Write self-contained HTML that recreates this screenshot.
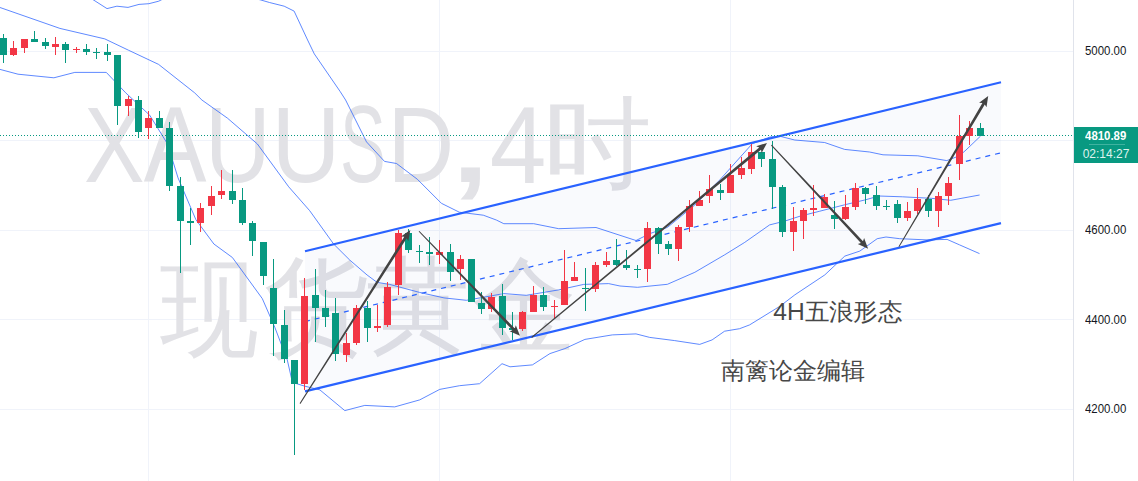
<!DOCTYPE html>
<html><head><meta charset="utf-8"><style>
html,body{margin:0;padding:0;background:#fff;width:1138px;height:481px;overflow:hidden;position:relative;font-family:"Liberation Sans",sans-serif}
.ax{position:absolute;left:1085px;font-size:12px;color:#131722;line-height:14px;transform:scaleX(0.953);transform-origin:0 0}
.lbl{position:absolute;left:1074px;width:64px;background:#089981;color:#fff;text-align:center;font-size:12px}
.txt{position:absolute;color:#434343;font-size:24px;line-height:28px;white-space:nowrap}
</style></head><body>
<svg width="1138" height="481" style="position:absolute;left:0;top:0">
<g shape-rendering="crispEdges">
<rect x="0" y="51" width="1073" height="1" fill="#F0F3FA"/>
<rect x="0" y="140" width="1073" height="1" fill="#F0F3FA"/>
<rect x="0" y="230" width="1073" height="1" fill="#F0F3FA"/>
<rect x="0" y="319" width="1073" height="1" fill="#F0F3FA"/>
<rect x="0" y="409" width="1073" height="1" fill="#F0F3FA"/>
<rect x="148" y="0" width="1" height="481" fill="#F0F3FA"/>
<rect x="439" y="0" width="1" height="481" fill="#F0F3FA"/>
<rect x="730" y="0" width="1" height="481" fill="#F0F3FA"/>
</g>
<g fill="#E2E2E6" font-family="Liberation Sans, sans-serif" font-size="105"><text transform="matrix(0.8641 0 0 1.0192 83.91 182.40)">X</text><text transform="matrix(0.8956 0 0 1.0333 143.70 182.40)">A</text><text transform="matrix(0.8667 0 0 1.0189 205.07 182.38)">U</text><text transform="matrix(0.9100 0 0 1.0257 271.42 182.37)">U</text><text transform="matrix(0.6533 0 0 1.0387 339.93 182.36)">S</text><text transform="matrix(0.8790 0 0 1.0288 387.39 182.10)">D</text><text transform="matrix(1.8700 0 0 1.2958 443.00 181.95)">,</text><text transform="matrix(0.9698 0 0 1.0431 489.66 183.14)">4</text><text transform="matrix(1.0383 0 0 0.9566 543.03 177.56)">时</text><text transform="matrix(0.9412 0 0 1.0213 160.06 345.74)">现</text><text transform="matrix(1.0101 0 0 0.9904 262.97 342.17)">货</text><text transform="matrix(0.9899 0 0 0.9902 366.02 341.16)">黄</text><text transform="matrix(1.0000 0 0 1.0000 472.00 342.00)">金</text></g>
<polygon points="305,251.2 1001,82.3 1001,223.1 305,391.4" fill="#3060C0" fill-opacity="0.03"/>
<polyline points="92.0,-1.0 107.0,8.6 116.9,6.2 128.0,7.4 139.0,4.4 148.9,3.7 158.7,1.2 163.0,-1.0 257.0,-1.0 260.9,0.0 269.5,2.5 284.2,6.2 294.1,11.1 307.6,40.0 314.3,53.9 340.0,91.3 345.6,100.0 366.5,141.9 384.5,161.4 396.5,163.5 417.4,179.3 441.4,203.3 459.3,212.2 483.3,215.2 496.3,220.0 503.8,223.7 533.7,223.7 558.7,228.7 596.0,227.5 636.0,240.5 649.9,233.6 667.4,227.4 694.8,205.0 719.7,180.0 752.3,143.7 770.0,137.0 779.7,136.2 794.7,140.0 824.6,142.5 844.6,149.4 869.6,152.0 883.0,154.8 917.8,155.8 946.8,160.6 959.4,155.8 966.0,150.0 980.6,136.0" fill="none" stroke="#2962FF" stroke-opacity="0.75" stroke-width="1"/>
<polyline points="0.0,7.5 59.9,28.4 104.8,38.9 128.7,50.3 158.6,64.4 194.6,92.8 201.9,100.0 227.5,118.2 257.4,144.0 288.7,186.8 309.7,210.7 333.6,244.0 349.7,260.0 367.1,275.0 377.1,282.4 389.6,284.4 419.5,292.4 444.0,297.9 466.4,300.3 503.8,293.6 526.3,295.3 558.7,289.9 583.7,284.4 608.6,283.6 620.0,286.0 637.5,287.3 667.4,284.3 694.8,272.3 724.7,254.8 744.7,242.4 769.6,224.9 784.5,221.2 800.0,216.2 819.8,211.2 844.6,204.8 864.7,200.0 879.0,196.0 902.3,196.8 931.3,198.3 950.7,200.3 979.6,195.0" fill="none" stroke="#2962FF" stroke-opacity="0.75" stroke-width="1"/>
<polyline points="0.0,69.4 18.0,74.2 53.9,77.8 74.8,72.4 106.3,72.4 125.7,92.8 149.7,115.2 167.6,144.0 178.0,177.8 195.9,219.7 213.9,244.0 232.4,257.5 262.3,298.6 274.8,327.3 287.3,360.0 292.4,382.4 304.9,386.2 319.9,389.9 344.8,410.6 364.8,405.4 394.7,406.9 419.7,399.9 439.7,389.4 459.6,385.7 479.6,383.7 502.0,363.7 510.0,366.8 532.4,364.9 549.9,353.6 564.9,348.6 584.9,339.4 612.3,334.9 636.0,333.9 649.7,337.4 674.7,340.6 699.7,344.4 712.1,339.9 724.6,331.2 739.6,328.7 749.6,324.9 780.0,306.2 794.9,294.8 824.8,274.9 844.8,256.1 859.8,251.1 877.2,238.7 886.0,237.0 899.7,238.7 927.1,239.9 947.1,239.4 959.6,244.9 979.5,253.6" fill="none" stroke="#2962FF" stroke-opacity="0.75" stroke-width="1"/>
<line x1="305" y1="251.2" x2="1001" y2="82.3" stroke="#2962FF" stroke-width="2.2"/>
<line x1="305" y1="391.4" x2="1001" y2="223.1" stroke="#2962FF" stroke-width="2.2"/>
<line x1="305" y1="321.5" x2="1001" y2="152.8" stroke="#2962FF" stroke-width="1.2" stroke-dasharray="5 5"/>
<g shape-rendering="crispEdges">
<line x1="0" y1="135.5" x2="1073" y2="135.5" stroke="#089981" stroke-width="1" stroke-dasharray="1 2"/>
<rect x="3" y="34" width="1" height="29" fill="#089981"/>
<rect x="0" y="38" width="7" height="17" fill="#089981"/>
<rect x="13" y="41" width="1" height="15" fill="#F23645"/>
<rect x="10" y="48" width="7" height="7" fill="#F23645"/>
<rect x="24" y="39" width="1" height="14" fill="#F23645"/>
<rect x="21" y="39" width="7" height="9" fill="#F23645"/>
<rect x="34" y="31" width="1" height="11" fill="#089981"/>
<rect x="31" y="39" width="7" height="3" fill="#089981"/>
<rect x="45" y="38" width="1" height="11" fill="#089981"/>
<rect x="42" y="42" width="7" height="4" fill="#089981"/>
<rect x="55" y="37" width="1" height="18" fill="#F23645"/>
<rect x="52" y="44" width="7" height="3" fill="#F23645"/>
<rect x="65" y="42" width="1" height="21" fill="#089981"/>
<rect x="62" y="44" width="7" height="6" fill="#089981"/>
<rect x="76" y="47" width="1" height="6" fill="#F23645"/>
<rect x="73" y="49" width="7" height="1" fill="#F23645"/>
<rect x="86" y="44" width="1" height="11" fill="#089981"/>
<rect x="83" y="49" width="7" height="3" fill="#089981"/>
<rect x="96" y="48" width="1" height="11" fill="#089981"/>
<rect x="93" y="52" width="7" height="1" fill="#089981"/>
<rect x="107" y="44" width="1" height="17" fill="#089981"/>
<rect x="104" y="52" width="7" height="3" fill="#089981"/>
<rect x="117" y="55" width="1" height="70" fill="#089981"/>
<rect x="114" y="55" width="7" height="51" fill="#089981"/>
<rect x="128" y="96" width="1" height="20" fill="#F23645"/>
<rect x="125" y="99" width="7" height="7" fill="#F23645"/>
<rect x="138" y="96" width="1" height="42" fill="#089981"/>
<rect x="135" y="100" width="7" height="32" fill="#089981"/>
<rect x="148" y="111" width="1" height="28" fill="#F23645"/>
<rect x="145" y="118" width="7" height="10" fill="#F23645"/>
<rect x="159" y="111" width="1" height="17" fill="#089981"/>
<rect x="156" y="118" width="7" height="10" fill="#089981"/>
<rect x="169" y="122" width="1" height="69" fill="#089981"/>
<rect x="166" y="128" width="7" height="58" fill="#089981"/>
<rect x="180" y="177" width="1" height="96" fill="#089981"/>
<rect x="177" y="186" width="7" height="35" fill="#089981"/>
<rect x="190" y="208" width="1" height="37" fill="#089981"/>
<rect x="187" y="221" width="7" height="2" fill="#089981"/>
<rect x="200" y="203" width="1" height="29" fill="#F23645"/>
<rect x="197" y="208" width="7" height="15" fill="#F23645"/>
<rect x="211" y="186" width="1" height="29" fill="#F23645"/>
<rect x="208" y="196" width="7" height="10" fill="#F23645"/>
<rect x="221" y="170" width="1" height="29" fill="#F23645"/>
<rect x="218" y="191" width="7" height="4" fill="#F23645"/>
<rect x="232" y="170" width="1" height="34" fill="#089981"/>
<rect x="229" y="191" width="7" height="9" fill="#089981"/>
<rect x="242" y="188" width="1" height="37" fill="#089981"/>
<rect x="239" y="200" width="7" height="23" fill="#089981"/>
<rect x="252" y="221" width="1" height="35" fill="#089981"/>
<rect x="249" y="223" width="7" height="18" fill="#089981"/>
<rect x="263" y="242" width="1" height="43" fill="#089981"/>
<rect x="260" y="242" width="7" height="34" fill="#089981"/>
<rect x="273" y="259" width="1" height="97" fill="#089981"/>
<rect x="270" y="288" width="7" height="36" fill="#089981"/>
<rect x="284" y="310" width="1" height="53" fill="#089981"/>
<rect x="281" y="325" width="7" height="34" fill="#089981"/>
<rect x="294" y="360" width="1" height="95" fill="#089981"/>
<rect x="291" y="360" width="7" height="24" fill="#089981"/>
<rect x="304" y="278" width="1" height="112" fill="#F23645"/>
<rect x="301" y="296" width="7" height="88" fill="#F23645"/>
<rect x="315" y="269" width="1" height="73" fill="#089981"/>
<rect x="312" y="295" width="7" height="13" fill="#089981"/>
<rect x="325" y="290" width="1" height="37" fill="#089981"/>
<rect x="322" y="308" width="7" height="9" fill="#089981"/>
<rect x="335" y="298" width="1" height="63" fill="#089981"/>
<rect x="332" y="313" width="7" height="41" fill="#089981"/>
<rect x="346" y="333" width="1" height="29" fill="#F23645"/>
<rect x="343" y="343" width="7" height="12" fill="#F23645"/>
<rect x="356" y="305" width="1" height="40" fill="#F23645"/>
<rect x="353" y="308" width="7" height="35" fill="#F23645"/>
<rect x="367" y="301" width="1" height="41" fill="#089981"/>
<rect x="364" y="308" width="7" height="20" fill="#089981"/>
<rect x="377" y="305" width="1" height="27" fill="#F23645"/>
<rect x="374" y="326" width="7" height="2" fill="#F23645"/>
<rect x="387" y="282" width="1" height="45" fill="#F23645"/>
<rect x="384" y="287" width="7" height="38" fill="#F23645"/>
<rect x="398" y="230" width="1" height="65" fill="#F23645"/>
<rect x="395" y="233" width="7" height="52" fill="#F23645"/>
<rect x="408" y="229" width="1" height="24" fill="#089981"/>
<rect x="405" y="233" width="7" height="17" fill="#089981"/>
<rect x="419" y="245" width="1" height="18" fill="#089981"/>
<rect x="416" y="251" width="7" height="1" fill="#089981"/>
<rect x="429" y="237" width="1" height="28" fill="#089981"/>
<rect x="426" y="252" width="7" height="2" fill="#089981"/>
<rect x="439" y="240" width="1" height="24" fill="#F23645"/>
<rect x="436" y="252" width="7" height="3" fill="#F23645"/>
<rect x="450" y="244" width="1" height="37" fill="#089981"/>
<rect x="447" y="252" width="7" height="20" fill="#089981"/>
<rect x="460" y="255" width="1" height="25" fill="#F23645"/>
<rect x="457" y="259" width="7" height="10" fill="#F23645"/>
<rect x="471" y="259" width="1" height="43" fill="#089981"/>
<rect x="468" y="259" width="7" height="43" fill="#089981"/>
<rect x="481" y="292" width="1" height="22" fill="#089981"/>
<rect x="478" y="303" width="7" height="6" fill="#089981"/>
<rect x="491" y="293" width="1" height="19" fill="#F23645"/>
<rect x="488" y="297" width="7" height="12" fill="#F23645"/>
<rect x="502" y="284" width="1" height="51" fill="#089981"/>
<rect x="499" y="296" width="7" height="32" fill="#089981"/>
<rect x="512" y="312" width="1" height="28" fill="#089981"/>
<rect x="509" y="328" width="7" height="2" fill="#089981"/>
<rect x="522" y="311" width="1" height="20" fill="#F23645"/>
<rect x="519" y="312" width="7" height="17" fill="#F23645"/>
<rect x="533" y="286" width="1" height="26" fill="#F23645"/>
<rect x="530" y="295" width="7" height="17" fill="#F23645"/>
<rect x="543" y="287" width="1" height="24" fill="#089981"/>
<rect x="540" y="295" width="7" height="12" fill="#089981"/>
<rect x="554" y="300" width="1" height="18" fill="#F23645"/>
<rect x="551" y="306" width="7" height="1" fill="#F23645"/>
<rect x="564" y="250" width="1" height="55" fill="#F23645"/>
<rect x="561" y="281" width="7" height="24" fill="#F23645"/>
<rect x="574" y="262" width="1" height="19" fill="#F23645"/>
<rect x="571" y="277" width="7" height="4" fill="#F23645"/>
<rect x="585" y="268" width="1" height="43" fill="#089981"/>
<rect x="582" y="288" width="7" height="1" fill="#089981"/>
<rect x="595" y="262" width="1" height="30" fill="#F23645"/>
<rect x="592" y="265" width="7" height="24" fill="#F23645"/>
<rect x="606" y="252" width="1" height="15" fill="#F23645"/>
<rect x="603" y="261" width="7" height="4" fill="#F23645"/>
<rect x="616" y="239" width="1" height="27" fill="#089981"/>
<rect x="613" y="260" width="7" height="5" fill="#089981"/>
<rect x="626" y="250" width="1" height="20" fill="#089981"/>
<rect x="623" y="265" width="7" height="3" fill="#089981"/>
<rect x="637" y="265" width="1" height="13" fill="#089981"/>
<rect x="634" y="269" width="7" height="1" fill="#089981"/>
<rect x="647" y="222" width="1" height="60" fill="#F23645"/>
<rect x="644" y="228" width="7" height="41" fill="#F23645"/>
<rect x="658" y="227" width="1" height="27" fill="#089981"/>
<rect x="655" y="228" width="7" height="16" fill="#089981"/>
<rect x="668" y="241" width="1" height="14" fill="#089981"/>
<rect x="665" y="244" width="7" height="5" fill="#089981"/>
<rect x="678" y="225" width="1" height="36" fill="#F23645"/>
<rect x="675" y="227" width="7" height="22" fill="#F23645"/>
<rect x="689" y="200" width="1" height="32" fill="#F23645"/>
<rect x="686" y="206" width="7" height="21" fill="#F23645"/>
<rect x="699" y="191" width="1" height="15" fill="#F23645"/>
<rect x="696" y="200" width="7" height="6" fill="#F23645"/>
<rect x="709" y="175" width="1" height="28" fill="#F23645"/>
<rect x="706" y="189" width="7" height="7" fill="#F23645"/>
<rect x="720" y="184" width="1" height="16" fill="#089981"/>
<rect x="717" y="190" width="7" height="3" fill="#089981"/>
<rect x="730" y="164" width="1" height="29" fill="#F23645"/>
<rect x="727" y="175" width="7" height="18" fill="#F23645"/>
<rect x="741" y="157" width="1" height="22" fill="#F23645"/>
<rect x="738" y="168" width="7" height="7" fill="#F23645"/>
<rect x="751" y="144" width="1" height="30" fill="#F23645"/>
<rect x="748" y="152" width="7" height="17" fill="#F23645"/>
<rect x="761" y="152" width="1" height="15" fill="#089981"/>
<rect x="758" y="152" width="7" height="7" fill="#089981"/>
<rect x="772" y="141" width="1" height="68" fill="#089981"/>
<rect x="769" y="159" width="7" height="28" fill="#089981"/>
<rect x="782" y="185" width="1" height="52" fill="#089981"/>
<rect x="779" y="187" width="7" height="45" fill="#089981"/>
<rect x="793" y="207" width="1" height="44" fill="#F23645"/>
<rect x="790" y="221" width="7" height="11" fill="#F23645"/>
<rect x="803" y="208" width="1" height="31" fill="#F23645"/>
<rect x="800" y="210" width="7" height="11" fill="#F23645"/>
<rect x="813" y="185" width="1" height="31" fill="#F23645"/>
<rect x="810" y="208" width="7" height="2" fill="#F23645"/>
<rect x="824" y="194" width="1" height="14" fill="#F23645"/>
<rect x="821" y="197" width="7" height="11" fill="#F23645"/>
<rect x="834" y="201" width="1" height="28" fill="#089981"/>
<rect x="831" y="215" width="7" height="4" fill="#089981"/>
<rect x="845" y="195" width="1" height="25" fill="#F23645"/>
<rect x="842" y="207" width="7" height="12" fill="#F23645"/>
<rect x="855" y="183" width="1" height="27" fill="#F23645"/>
<rect x="852" y="188" width="7" height="19" fill="#F23645"/>
<rect x="865" y="187" width="1" height="17" fill="#089981"/>
<rect x="862" y="188" width="7" height="6" fill="#089981"/>
<rect x="876" y="186" width="1" height="24" fill="#089981"/>
<rect x="873" y="195" width="7" height="11" fill="#089981"/>
<rect x="886" y="200" width="1" height="10" fill="#089981"/>
<rect x="883" y="206" width="7" height="1" fill="#089981"/>
<rect x="897" y="200" width="1" height="23" fill="#089981"/>
<rect x="894" y="204" width="7" height="14" fill="#089981"/>
<rect x="907" y="202" width="1" height="19" fill="#F23645"/>
<rect x="904" y="211" width="7" height="7" fill="#F23645"/>
<rect x="917" y="188" width="1" height="26" fill="#F23645"/>
<rect x="914" y="199" width="7" height="12" fill="#F23645"/>
<rect x="928" y="195" width="1" height="22" fill="#089981"/>
<rect x="925" y="199" width="7" height="12" fill="#089981"/>
<rect x="938" y="192" width="1" height="35" fill="#F23645"/>
<rect x="935" y="196" width="7" height="15" fill="#F23645"/>
<rect x="948" y="177" width="1" height="28" fill="#F23645"/>
<rect x="945" y="183" width="7" height="13" fill="#F23645"/>
<rect x="959" y="115" width="1" height="65" fill="#F23645"/>
<rect x="956" y="136" width="7" height="28" fill="#F23645"/>
<rect x="969" y="121" width="1" height="24" fill="#F23645"/>
<rect x="966" y="128" width="7" height="8" fill="#F23645"/>
<rect x="980" y="123" width="1" height="13" fill="#089981"/>
<rect x="977" y="128" width="7" height="8" fill="#089981"/>
</g>
<polygon points="300.4,403.9 406.7,238.3 408.3,241.2 410.3,230.0 401.0,236.6 404.3,236.8 299.6,403.3" fill="#434343"/>
<polygon points="418.6,231.5 512.7,330.3 509.6,331.2 520.0,335.8 515.8,325.3 514.8,328.4 419.4,230.9" fill="#434343"/>
<polygon points="531.9,337.9 761.0,149.7 761.6,152.9 767.0,142.9 756.2,146.3 759.2,147.6 531.3,337.1" fill="#434343"/>
<polygon points="771.0,145.4 860.9,243.1 857.8,244.0 868.1,248.7 864.1,238.1 863.0,241.2 771.8,144.8" fill="#434343"/>
<polygon points="899.3,247.1 984.8,104.5 986.5,107.2 988.2,96.0 979.1,102.8 982.4,103.0 898.5,246.5" fill="#434343"/>
<rect x="1073" y="0" width="1" height="481" fill="#E0E3EB" shape-rendering="crispEdges"/>
</svg>
<div class="ax" style="top:44px">5000.00</div>
<div class="ax" style="top:223px">4600.00</div>
<div class="ax" style="top:313px">4400.00</div>
<div class="ax" style="top:402px">4200.00</div>
<div class="lbl" style="top:127px;height:18px;line-height:18px;"><span style="display:inline-block;font-weight:bold;transform:scaleX(0.95)">4810.89</span></div>
<div class="lbl" style="top:145px;height:18px;line-height:18px;color:#dff3ee">02:14:27</div>
<div style="position:absolute;left:1089px;top:144px;width:36px;height:1px;background:#3fb3a0"></div>
<svg style="position:absolute;left:0;top:0" width="1138" height="481"><text transform="matrix(1.025 0 0 1 773.2 320.2)" font-family="Liberation Sans, sans-serif" font-size="24" fill="#474747">4H五浪形态</text><text x="720.8" y="378.5" font-family="Liberation Sans, sans-serif" font-size="24" fill="#474747">南篱论金编辑</text></svg>

</body></html>
